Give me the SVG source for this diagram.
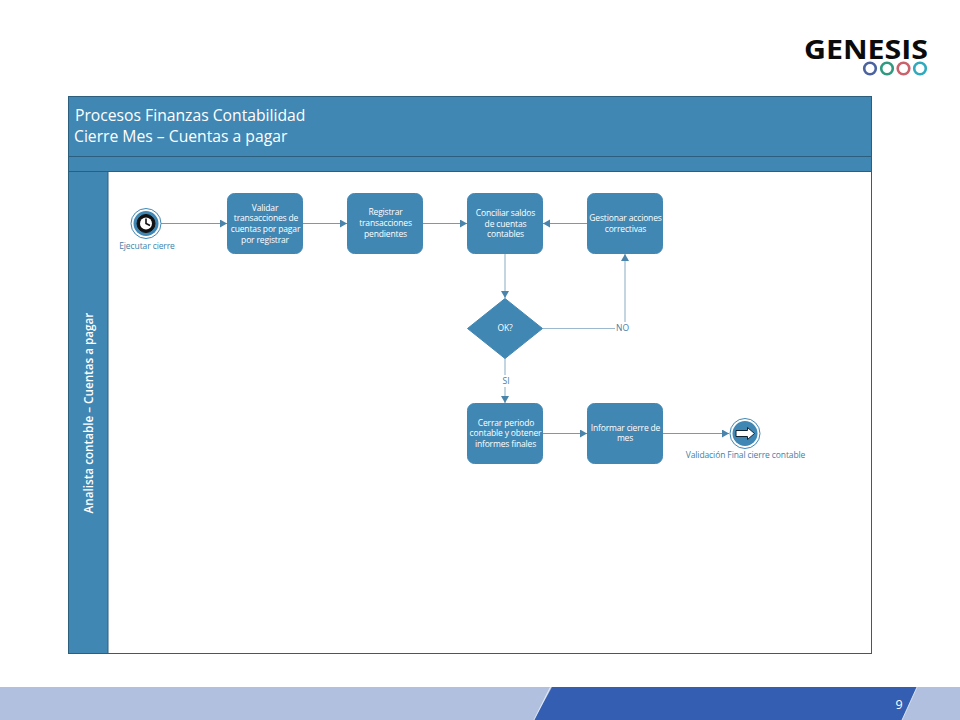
<svg xmlns="http://www.w3.org/2000/svg" width="960" height="720" viewBox="0 0 960 720">
<style>
text{font-family:"Open Sans","Noto Sans","Liberation Sans",sans-serif}
.task{fill:#4087b4;stroke:#4087b4}
.tt{fill:#fff;font-size:8.5px;text-anchor:middle;letter-spacing:-.15px}
.lab{fill:#3f7fa8;font-size:8.5px;text-anchor:middle;letter-spacing:-.1px}
.band{fill:#4087b4;stroke:#2c5f7e;stroke-width:1}
.c{fill:none;stroke:#6f9cba;stroke-width:1.2;marker-end:url(#a)}
.c2{fill:none;stroke:#9db9cf;stroke-width:1.2;marker-end:url(#a)}
.ev{fill:#fff;stroke:#4087b4;stroke-width:1}
.evi{fill:#4087b4}
.ring{fill:none;stroke-width:2.6}
</style>
<defs>
<marker id="a" markerUnits="userSpaceOnUse" markerWidth="8" markerHeight="9" refX="7" refY="4" orient="auto"><path d="M0 0L7 4L0 8z" fill="#4a84aa"/></marker>
</defs>
<rect width="960" height="720" fill="#fff"/>

<g id="logo">
<text x="866" y="59" font-family="'DejaVu Sans',sans-serif" font-size="27" font-weight="700" fill="#0b0b0b" text-anchor="middle" textLength="124" lengthAdjust="spacingAndGlyphs">GENESIS</text>
<circle class="ring" cx="870" cy="68.500" r="5.800" stroke="#4a639f"/>
<circle class="ring" cx="887" cy="68.500" r="5.800" stroke="#2f9a7f"/>
<circle class="ring" cx="903.500" cy="68.500" r="5.800" stroke="#c9626d"/>
<circle class="ring" cx="920" cy="68.500" r="5.800" stroke="#2fa9bd"/>
</g>

<g id="pool">
<rect x="68.500" y="96.500" width="803" height="557" fill="#fff" stroke="#2c5f7e"/>
<rect class="band" x="68.500" y="96.500" width="803" height="60"/>
<rect class="band" x="68.500" y="156.500" width="803" height="15"/>
<rect x="68.500" y="171.500" width="39.500" height="482" fill="#4087b4" stroke="#2c5f7e"/>
<text x="75" y="120.500" font-size="15.700" fill="#fff">Procesos Finanzas Contabilidad</text>
<text x="74" y="142" font-size="15.700" fill="#fff">Cierre Mes – Cuentas a pagar</text>
<text transform="translate(92.500 413) rotate(-90)" font-size="11.700" font-weight="600" fill="#fff" text-anchor="middle">Analista contable – Cuentas a pagar</text>
</g>

<g id="connectors">
<path class="c" d="M161 223.500H227"/>
<path class="c" d="M303 223.500H347"/>
<path class="c" d="M423 223.500H467"/>
<path class="c" d="M587 223.500H543"/>
<path class="c2" d="M505 254V298"/>
<path class="c2" d="M543 328.500H625V254"/>
<path class="c2" d="M505 358V403"/>
<path class="c" d="M543 433.500H587"/>
<path class="c" d="M663 433.500H729"/>
<rect x="615" y="322" width="14" height="12" fill="#fff"/>
<text class="lab" x="622.500" y="331" font-size="9">NO</text>
<rect x="501" y="375" width="9" height="12" fill="#fff"/>
<text class="lab" x="506" y="384">SI</text>
</g>

<g id="start">
<circle class="ev" cx="146" cy="223.500" r="15"/>
<circle class="evi" cx="146" cy="223.500" r="12.500"/>
<circle cx="146" cy="223.500" r="9" fill="#111" stroke="#111"/>
<circle cx="146" cy="223.500" r="6" fill="#fff"/>
<path d="M146 218.500V223.500L150 225.500" fill="none" stroke="#111" stroke-width="1.600"/>
<text class="lab" x="147" y="249">Ejecutar cierre</text>
</g>

<g id="t1">
<rect class="task" x="227.500" y="193.500" width="75" height="60" rx="7"/>
<text class="tt" x="265" y="210.500">Validar</text>
<text class="tt" x="266" y="221">transacciones de</text>
<text class="tt" x="265.500" y="231.500">cuentas por pagar</text>
<text class="tt" x="265" y="242.500">por registrar</text>
</g>
<g id="t2">
<rect class="task" x="347.500" y="193.500" width="75" height="60" rx="7"/>
<text class="tt" x="385.500" y="215">Registrar</text>
<text class="tt" x="385.500" y="226">transacciones</text>
<text class="tt" x="385.500" y="236.500">pendientes</text>
</g>
<g id="t3">
<rect class="task" x="467.500" y="193.500" width="75" height="60" rx="7"/>
<text class="tt" x="505.500" y="216">Conciliar saldos</text>
<text class="tt" x="505.500" y="226.500">de cuentas</text>
<text class="tt" x="505.500" y="237">contables</text>
</g>
<g id="t4">
<rect class="task" x="587.500" y="193.500" width="75" height="60" rx="7"/>
<text class="tt" x="625.500" y="221">Gestionar acciones</text>
<text class="tt" x="625.500" y="232">correctivas</text>
</g>
<g id="gw">
<path class="task" d="M505 298.500L542.500 328.500L505 358.500L467.500 328.500Z"/>
<text class="tt" x="505" y="331">OK?</text>
</g>
<g id="t5">
<rect class="task" x="467.500" y="403.500" width="75" height="60" rx="7"/>
<text class="tt" x="506" y="426">Cerrar periodo</text>
<text class="tt" x="505.500" y="436">contable y obtener</text>
<text class="tt" x="505.500" y="446.500">informes finales</text>
</g>
<g id="t6">
<rect class="task" x="587.500" y="403.500" width="75" height="60" rx="7"/>
<text class="tt" x="625.500" y="431">Informar cierre de</text>
<text class="tt" x="625" y="441">mes</text>
</g>
<g id="end">
<circle class="ev" cx="745" cy="433.500" r="15"/>
<circle class="evi" cx="745" cy="433.500" r="12.500"/>
<path d="M736 430.500H747.500V427.500L754.500 433.500L747.500 439.500V436.500H736Z" fill="#fff" stroke="#0f2233" stroke-width="1"/>
<text class="lab" x="745.500" y="458">Validación Final cierre contable</text>
</g>

<g id="footer">
<rect x="0" y="687" width="960" height="33" fill="#b1c0de"/>
<path d="M552 687H917L902 720H534Z" fill="#335eb1"/>
<path d="M550.500 687L534 720M917 687L902 720" stroke="#fff" stroke-width="1" opacity=".7" fill="none"/>
<text x="899" y="709" font-size="12.500" fill="#fff" text-anchor="middle">9</text>
</g>
</svg>
